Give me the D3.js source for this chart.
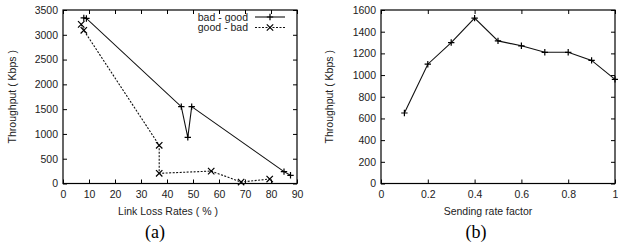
<!DOCTYPE html>
<html>
<head>
<meta charset="utf-8">
<script src="https://cdn.jsdelivr.net/npm/d3@7"></script>
<style>
  body { margin: 0; background: #fff; }
  text { font-family: "Liberation Sans", Arial, sans-serif; font-size: 10.5px; fill: #222; }
  .cap { font-family: "Liberation Serif", "Times New Roman", serif; font-size: 18px; fill: #000; }
</style>
</head>
<body>
<svg id="chart" width="618" height="249"></svg>
<script>
// plot (a): throughput vs link loss rate
var badGoodLoss = [8, 9, 45.5, 48, 49.5, 85, 87.5];
var badGoodTput = [3340, 3330, 1550, 930, 1550, 240, 165];
var goodBadLoss = [7, 8, 37, 37, 57, 68.5, 79.5];
var goodBadTput = [3210, 3090, 770, 205, 250, 30, 90];
var lossTicks = [0, 10, 20, 30, 40, 50, 60, 70, 80, 90];
var tputTicksA = [0, 500, 1000, 1500, 2000, 2500, 3000, 3500];

// plot (b): throughput vs sending rate factor
var rateFactor = [0.1, 0.2, 0.3, 0.4, 0.5, 0.6, 0.7, 0.8, 0.9, 1.0];
var rateTput = [650, 1100, 1300, 1525, 1315, 1270, 1210, 1210, 1135, 960];
var rateTicks = [0, 0.2, 0.4, 0.6, 0.8, 1];
var tputTicksB = [0, 200, 400, 600, 800, 1000, 1200, 1400, 1600];

var svg = d3.select('#chart');

function drawPanel(opt) {
  var x = d3.scaleLinear().domain(opt.xDomain).range([opt.left, opt.right]);
  var y = d3.scaleLinear().domain(opt.yDomain).range([opt.bottom, opt.top]);
  var g = svg.append('g');
  var tk = 4;

  // inward ticks on all four sides, gnuplot style
  g.append('g').attr('transform', 'translate(0,' + opt.bottom + ')')
    .call(d3.axisBottom(x).tickValues(opt.xTicks).tickSizeInner(-tk).tickSizeOuter(0).tickPadding(7).tickFormat(opt.xFmt));
  g.append('g').attr('transform', 'translate(0,' + opt.top + ')')
    .call(d3.axisTop(x).tickValues(opt.xTicks).tickSizeInner(-tk).tickSizeOuter(0).tickFormat(''));
  g.append('g').attr('transform', 'translate(' + opt.left + ',0)')
    .call(d3.axisLeft(y).tickValues(opt.yTicks).tickSizeInner(-tk).tickSizeOuter(0).tickPadding(5).tickFormat(d3.format('d')));
  g.append('g').attr('transform', 'translate(' + opt.right + ',0)')
    .call(d3.axisRight(y).tickValues(opt.yTicks).tickSizeInner(-tk).tickSizeOuter(0).tickFormat(''));
  g.selectAll('.domain').remove();
  g.selectAll('.tick line').attr('stroke', '#000');
  g.selectAll('.tick text').attr('fill', '#222').style('font-size', '10.5px');

  g.append('rect')
    .attr('x', opt.left).attr('y', opt.top)
    .attr('width', opt.right - opt.left).attr('height', opt.bottom - opt.top)
    .attr('fill', 'none').attr('stroke', '#000').attr('stroke-width', 1.2);

  g.append('text')
    .attr('x', (opt.left + opt.right) / 2 + opt.xlabShift).attr('y', opt.bottom + 31)
    .attr('text-anchor', 'middle').text(opt.xLabel);
  g.append('text')
    .attr('transform', 'translate(' + opt.ylabX + ',' + ((opt.top + opt.bottom) / 2) + ') rotate(-90)')
    .attr('text-anchor', 'middle').text('Throughput ( Kbps )');
  g.append('text').attr('class', 'cap')
    .attr('x', opt.capX).attr('y', 238)
    .attr('text-anchor', 'middle').text(opt.cap);

  return { x: x, y: y, g: g };
}

function series(p, xs, ys, dash, marker) {
  var pts = xs.map((v, i) => [p.x(v), p.y(ys[i])]);
  p.g.append('path')
    .attr('d', d3.line()(pts))
    .attr('fill', 'none').attr('stroke', '#111').attr('stroke-width', 1.1)
    .attr('stroke-dasharray', dash);
  p.g.selectAll(null).data(pts).enter().append('path')
    .attr('d', d => markerPath(marker, d[0], d[1]))
    .attr('stroke', '#000').attr('stroke-width', 1.2).attr('fill', 'none');
}

function markerPath(m, cx, cy) {
  var s = 3.2;
  if (m === 'plus') return 'M' + (cx - s) + ',' + cy + 'H' + (cx + s) + 'M' + cx + ',' + (cy - s) + 'V' + (cy + s);
  return 'M' + (cx - s) + ',' + (cy - s) + 'L' + (cx + s) + ',' + (cy + s) + 'M' + (cx - s) + ',' + (cy + s) + 'L' + (cx + s) + ',' + (cy - s);
}

var pa = drawPanel({
  left: 63, right: 297, top: 10, bottom: 183.5,
  xDomain: [0, 90], yDomain: [0, 3500],
  xTicks: lossTicks, yTicks: tputTicksA, xFmt: d3.format('d'),
  xLabel: 'Link Loss Rates ( % )', xlabShift: -12, ylabX: 16, capX: 155, cap: '(a)'
});
series(pa, badGoodLoss, badGoodTput, null, 'plus');
series(pa, goodBadLoss, goodBadTput, '2,1.5', 'cross');

// legend
var legend = [['bad - good', null, 'plus'], ['good - bad', '2,1.5', 'cross']];
legend.forEach(function (l, i) {
  var ly = 17 + i * 10.5;
  pa.g.append('text').attr('x', 248).attr('y', ly + 3.5).attr('text-anchor', 'end').text(l[0]);
  pa.g.append('path').attr('d', 'M255,' + ly + 'H285')
    .attr('stroke', '#111').attr('stroke-width', 1.1).attr('stroke-dasharray', l[1]);
  pa.g.append('path').attr('d', markerPath(l[2], 270, ly))
    .attr('stroke', '#000').attr('stroke-width', 1.2).attr('fill', 'none');
});

var pb = drawPanel({
  left: 381, right: 615, top: 10, bottom: 183.5,
  xDomain: [0, 1], yDomain: [0, 1600],
  xTicks: rateTicks, yTicks: tputTicksB, xFmt: d3.format('~g'),
  xLabel: 'Sending rate factor', xlabShift: -10, ylabX: 333, capX: 476, cap: '(b)'
});
series(pb, rateFactor, rateTput, null, 'plus');
</script>
</body>
</html>
